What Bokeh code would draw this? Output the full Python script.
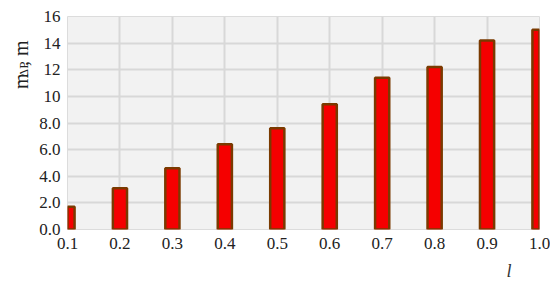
import math
from bokeh.plotting import figure
from bokeh.models import Range1d, FixedTicker, ColumnDataSource, Title
from bokeh.layouts import row
from bokeh.embed import file_html
from bokeh.resources import INLINE

# data
l_values = [0.1, 0.2, 0.3, 0.4, 0.5, 0.6, 0.7, 0.8, 0.9, 1.0]
m_dp = [1.7, 3.1, 4.6, 6.4, 7.6, 9.4, 11.4, 12.2, 14.2, 15.0]
x_tick_labels = ["0.1", "0.2", "0.3", "0.4", "0.5", "0.6", "0.7", "0.8", "0.9", "1.0"]
y_ticks = [0, 2, 4, 6, 8, 10, 12, 14, 16]
y_tick_labels = ["0.0", "2.0", "4.0", "6.0", "8.0", "10", "12", "14", "16"]
y_title_parts = ["m", "ΔP", ", m"]
x_title = "l"

FONT = "Liberation Serif"
H = 288
LW = 36  # width of the strip that holds the y-axis title

# main chart
p = figure(width=550 - LW, height=H, output_backend="svg", toolbar_location=None,
           x_range=Range1d(0.1, 1.0), y_range=Range1d(0, 16),
           min_border_left=65 - LW, min_border_right=11, min_border_top=16, min_border_bottom=59)

p.background_fill_color = "#f2f2f2"
p.border_fill_color = "white"
p.outline_line_color = "#dcdcdc"
p.outline_line_width = 1

src = ColumnDataSource(dict(x=l_values, top=m_dp))
p.vbar(x="x", top="top", bottom=0, width=0.027, source=src,
       fill_color="#f50000", line_color="#7a3a00", line_width=2.5)

p.xaxis.ticker = FixedTicker(ticks=l_values)
p.xaxis.major_label_overrides = {v: s for v, s in zip(l_values, x_tick_labels)}
p.yaxis.ticker = FixedTicker(ticks=y_ticks)
p.yaxis.major_label_overrides = {v: s for v, s in zip(y_ticks, y_tick_labels)}

for ax in (p.xaxis[0], p.yaxis[0]):
    ax.axis_line_color = None
    ax.major_tick_line_color = None
    ax.minor_tick_line_color = None
    ax.major_tick_out = 0
    ax.major_tick_in = 0
    ax.minor_tick_out = 0
    ax.minor_tick_in = 0
    ax.major_label_text_font = FONT
    ax.major_label_text_font_size = "17px"
    ax.major_label_text_color = "#222222"
p.xaxis.major_label_standoff = 8
p.yaxis.major_label_standoff = 7

p.xgrid.grid_line_color = "#d8d8d8"
p.ygrid.grid_line_color = "#d8d8d8"
p.xgrid.grid_line_width = 2
p.ygrid.grid_line_width = 2
p.xgrid.ticker = FixedTicker(ticks=l_values)
p.ygrid.ticker = FixedTicker(ticks=y_ticks)

# x-axis title "l" (italic, right side under the axis)
p.add_layout(Title(text=x_title, align="right", offset=28, standoff=14,
                   text_font=FONT, text_font_style="italic", text_font_size="18px",
                   text_color="#333333"), "below")

# strip with the rotated y-axis title m_ΔP, m
left = figure(width=LW, height=H, output_backend="svg", toolbar_location=None,
              x_range=Range1d(0, LW), y_range=Range1d(0, H),
              min_border=0, min_border_left=0, min_border_right=0,
              min_border_top=0, min_border_bottom=0)
left.axis.visible = False
left.grid.visible = False
left.outline_line_color = None
left.background_fill_color = "white"
left.border_fill_color = "white"
ysrc = ColumnDataSource(dict(
    x=[20, 23, 20],
    y=[H - 98, H - 82, H - 67],
    text=y_title_parts,
    size=["20px", "13px", "20px"],
))
left.text(x="x", y="y", text="text", source=ysrc, angle=math.pi / 2,
          text_font_size="size", text_font={"value": FONT}, text_color="#222222",
          text_baseline="alphabetic", text_align="left")

layout = row(left, p, spacing=0)
open("out.html", "w").write(file_html(layout, INLINE))
